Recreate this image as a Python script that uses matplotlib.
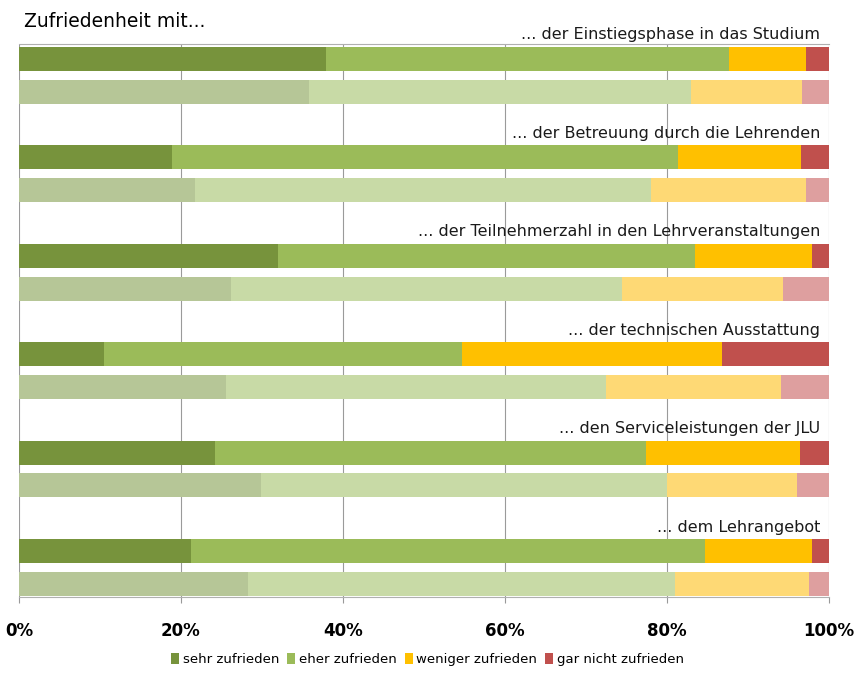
import matplotlib.pyplot as plt
import numpy as np

# Zufriedenheit, Anteile in %
themen = ['... der Einstiegsphase in das Studium',
          '... der Betreuung durch die Lehrenden',
          '... der Teilnehmerzahl in den Lehrveranstaltungen',
          '... der technischen Ausstattung',
          '... den Serviceleistungen der JLU',
          '... dem Lehrangebot']
kategorien = ['sehr zufrieden', 'eher zufrieden', 'weniger zufrieden', 'gar nicht zufrieden']

# aktuelle Befragung (dunkle Balken)
sehr_akt = [37.9, 18.9, 32.0, 10.5, 24.2, 21.2]
eher_akt = [49.7, 62.5, 51.5, 44.2, 53.2, 63.5]
weniger_akt = [9.5, 15.1, 14.4, 32.1, 19.0, 13.2]
gar_akt = [2.9, 3.5, 2.1, 13.2, 3.6, 2.1]

# Vergleich (helle Balken)
sehr_vgl = [35.8, 21.7, 26.2, 25.6, 29.9, 28.3]
eher_vgl = [47.2, 56.3, 48.2, 46.9, 50.1, 52.7]
weniger_vgl = [13.7, 19.2, 19.9, 21.6, 16.0, 16.5]
gar_vgl = [3.3, 2.8, 5.7, 5.9, 4.0, 2.5]

farben_akt = ['#77933C', '#9BBB59', '#FFC000', '#C0504D']
farben_vgl = ['#B6C697', '#C8DAA6', '#FED975', '#DE9F9F']

fig = plt.figure(figsize=(8.55, 6.78), dpi=100)
ax = fig.add_axes([0.0222, 0.1195, 0.9474, 0.8155])

n = len(themen)
y_akt = np.arange(n) * 3
y_vgl = y_akt + 1
h = 0.73

akt = [sehr_akt, eher_akt, weniger_akt, gar_akt]
vgl = [sehr_vgl, eher_vgl, weniger_vgl, gar_vgl]

links = np.zeros(n)
for werte, farbe, name in zip(akt, farben_akt, kategorien):
    ax.barh(y_akt, werte, left=links, height=h, color=farbe, label=name, zorder=2)
    links += np.array(werte)

links = np.zeros(n)
for werte, farbe in zip(vgl, farben_vgl):
    ax.barh(y_vgl, werte, left=links, height=h, color=farbe, zorder=2)
    links += np.array(werte)

for y, t in zip(y_akt, themen):
    ax.text(98.9, y - 0.5, t, ha='right', va='bottom', fontsize=11.5,
            color='#1a1a1a', zorder=3)

ax.set_xlim(0, 100)
ax.set_ylim(16.4, -0.45)
ax.set_yticks([])
ax.set_xticks(np.arange(0, 101, 20))
ax.set_xticklabels([f'{v}%' for v in range(0, 101, 20)], fontsize=12, fontweight='bold')
ax.tick_params(axis='x', length=4, color='#999999', pad=14)
ax.grid(axis='x', color='#9a9a9a', linewidth=0.8, zorder=0)
for s in ['top', 'bottom', 'left', 'right']:
    ax.spines[s].set_color('#b0b0b0')
ax.spines['left'].set_visible(False)
ax.spines['right'].set_visible(False)

fig.text(0.028, 0.968, 'Zufriedenheit mit...', fontsize=13.5, va='center', ha='left')

fig.legend(loc='lower center', bbox_to_anchor=(0.5, 0.0), ncol=4, frameon=False,
           fontsize=9.5, handlelength=0.6, handleheight=0.8, handletextpad=0.3,
           columnspacing=0.6)

fig.savefig('out.png', dpi=100)
